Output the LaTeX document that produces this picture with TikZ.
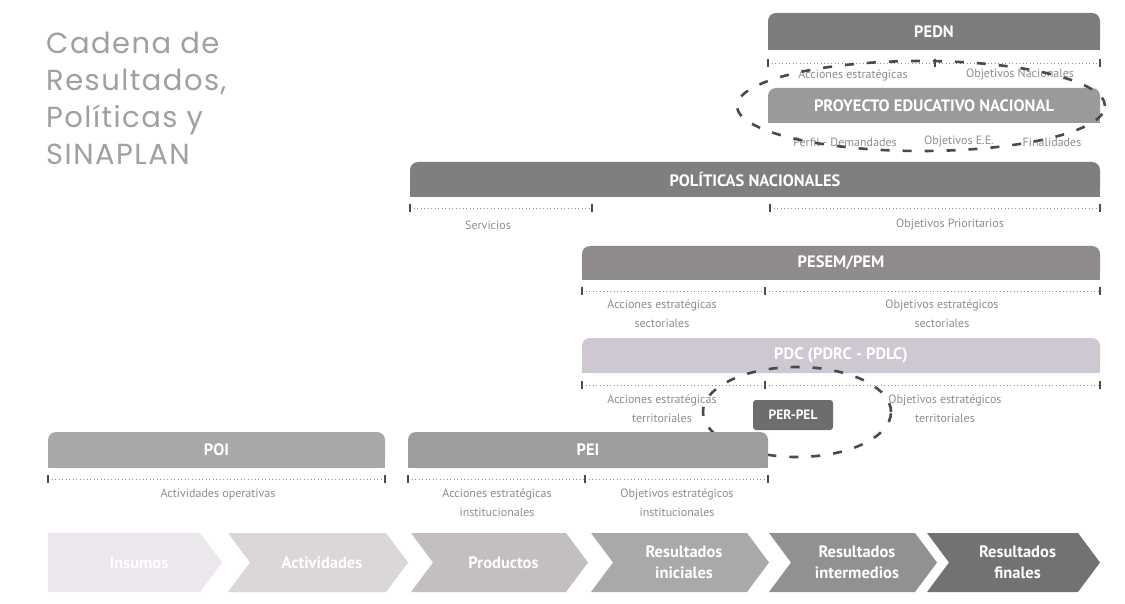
\documentclass[tikz,border=0pt]{standalone}
\usepackage{fontspec}
\setmainfont{PT Sans}
\newfontfamily\titlefont[LetterSpace=5]{Poppins}
\definecolor{cPEDN}{HTML}{7E7C7D}
\definecolor{cPEN}{HTML}{9B999A}
\definecolor{cPOL}{HTML}{807E7F}
\definecolor{cPES}{HTML}{8F8B8D}
\definecolor{cPDC}{HTML}{CFC7D1}
\definecolor{cPER}{HTML}{6E6C6D}
\definecolor{cPOI}{HTML}{A9A7A8}
\definecolor{cPEI}{HTML}{9E9C9D}
\definecolor{ch1}{HTML}{EBE7EC}
\definecolor{ch2}{HTML}{DAD6DA}
\definecolor{ch3}{HTML}{C3BFC1}
\definecolor{ch4}{HTML}{ABA8AA}
\definecolor{ch5}{HTML}{939092}
\definecolor{ch6}{HTML}{747173}
\definecolor{lblgray}{HTML}{8E8E8E}
\definecolor{titlegray}{HTML}{A0A0A0}
\definecolor{elldark}{HTML}{4A4A4A}
\tikzset{
  bartext/.style={text=white,font=\bfseries\fontsize{16.5}{18}\selectfont,inner sep=0pt},
  chtext/.style={text=white,font=\bfseries\fontsize{16.5}{21}\selectfont,align=center,inner sep=0pt},
  lbl/.style={text=lblgray,font=\fontsize{12}{19}\selectfont,align=center,inner sep=0pt},
  brkdot/.style={draw=lblgray,line width=0.8pt,dash pattern=on 1pt off 2.5pt},
  brktick/.style={draw=black!70,line width=2pt},
  ellstyle/.style={draw=elldark,line width=2.6pt,dash pattern=on 9pt off 13pt},
  titlestyle/.style={text=titlegray,font=\titlefont\fontsize{29}{37}\selectfont,align=left,inner sep=0pt,anchor=north west}
}
% bar: name, x1, y1, x2, y2, colour, text
\newcommand\mkbar[7]{%
  \fill[#6,rounded corners=8pt] (#2,#3) rectangle (#4,#5);
  \fill[#6] (#2,{(#3+#5)/2}) rectangle (#4,#5);
  \node[bartext] (#1) at ({(#2+#4)/2},{(#3+#5)/2}) {#7};
}
% bracket: y, x1, x2
\newcommand\mkbrk[3]{%
  \draw[brkdot] (#2,#1) -- (#3,#1);
  \draw[brktick] (#2,{#1-4}) -- (#2,{#1+4});
  \draw[brktick] (#3,{#1-4}) -- (#3,{#1+4});
}
% chevron: name, x1, x2, colour, text, first(1)/other(0)
\newcommand\mkchev[6]{%
  \ifnum#6=1
    \fill[#4] (#2,533) -- ({#3-22},533) -- (#3,562.5) -- ({#3-22},592) -- (#2,592) -- cycle;
  \else
    \fill[#4] (#2,533) -- ({#3-22},533) -- (#3,562.5) -- ({#3-22},592) -- (#2,592) -- ({#2+22},562.5) -- cycle;
  \fi
  \node[chtext] (#1) at ({(#2+#3)/2+4},562.5) {#5};
}
\begin{document}
\begin{tikzpicture}[x=1pt,y=-1pt]
\useasboundingbox (0,0) rectangle (1125,604);
\fill[white] (0,0) rectangle (1125,604);

% title
\node[titlestyle] (title) at (46,32) {Cadena de\\Resultados,\\Políticas y\\SINAPLAN};

% PEDN
\mkbar{pedn}{768}{13}{1100}{50}{cPEDN}{PEDN}
\mkbrk{63}{768}{935}
\mkbrk{63}{935}{1100}
\node[lbl] (pednA) at (853,75) {Acciones estratégicas};
\node[lbl] (pednB) at (1020,75) {Objetivos Nacionales};

% PEN
\mkbar{pen}{768}{88}{1100}{123}{cPEN}{PROYECTO EDUCATIVO NACIONAL}
\node[lbl] (penA) at (845,142) {Perfil - Demandades};
\node[lbl] (penB) at (959,142) {Objetivos E.E.};
\node[lbl] (penC) at (1052,142) {Finalidades};
\draw[ellstyle] (921,106) ellipse [x radius=184pt, y radius=45pt];

% POLITICAS
\mkbar{pol}{410}{162}{1100}{197}{cPOL}{POLÍTICAS NACIONALES}
\mkbrk{208}{410}{592}
\mkbrk{208}{770}{1100}
\node[lbl] (polA) at (488,225) {Servicios};
\node[lbl] (polB) at (950,225) {Objetivos Prioritarios};

% PESEM
\mkbar{pes}{582}{246}{1100}{280}{cPES}{PESEM/PEM}
\mkbrk{291}{582}{765}
\mkbrk{291}{765}{1100}
\node[lbl] (pesA) at (662,314) {Acciones estratégicas\\sectoriales};
\node[lbl] (pesB) at (942,314) {Objetivos estratégicos\\sectoriales};

% PDC
\mkbar{pdc}{582}{338}{1100}{373}{cPDC}{PDC (PDRC - PDLC)}
\mkbrk{385}{582}{765}
\mkbrk{385}{765}{1100}
\node[lbl] (pdcA) at (662,409) {Acciones estratégicas\\territoriales};
\node[lbl] (pdcB) at (945,409) {Objetivos estratégicos\\territoriales};

% PER-PEL
\node[fill=cPER,rounded corners=3pt,minimum width=80pt,minimum height=30pt,text=white,font=\bfseries\fontsize{13.5}{14}\selectfont,inner sep=0pt] (per) at (793,415) {PER-PEL};
\draw[ellstyle] (797,412) ellipse [x radius=94pt, y radius=45pt];

% POI
\mkbar{poi}{48}{432}{385}{468}{cPOI}{POI}
\mkbrk{479}{48}{385}
\node[lbl] (poiA) at (218,494) {Actividades operativas};

% PEI
\mkbar{pei}{408}{432}{768}{468}{cPEI}{PEI}
\mkbrk{479}{408}{585}
\mkbrk{479}{585}{768}
\node[lbl] (peiA) at (497,503) {Acciones estratégicas\\institucionales};
\node[lbl] (peiB) at (677,503) {Objetivos estratégicos\\institucionales};

% chevrons
\mkchev{c1}{48}{222}{ch1}{Insumos}{1}
\mkchev{c2}{228}{408}{ch2}{Actividades}{0}
\mkchev{c3}{411}{588}{ch3}{Productos}{0}
\mkchev{c4}{591}{769}{ch4}{Resultados\\iniciales}{0}
\mkchev{c5}{769}{937}{ch5}{Resultados\\intermedios}{0}
\mkchev{c6}{927}{1100}{ch6}{Resultados\\finales}{0}
\end{tikzpicture}
\end{document}
